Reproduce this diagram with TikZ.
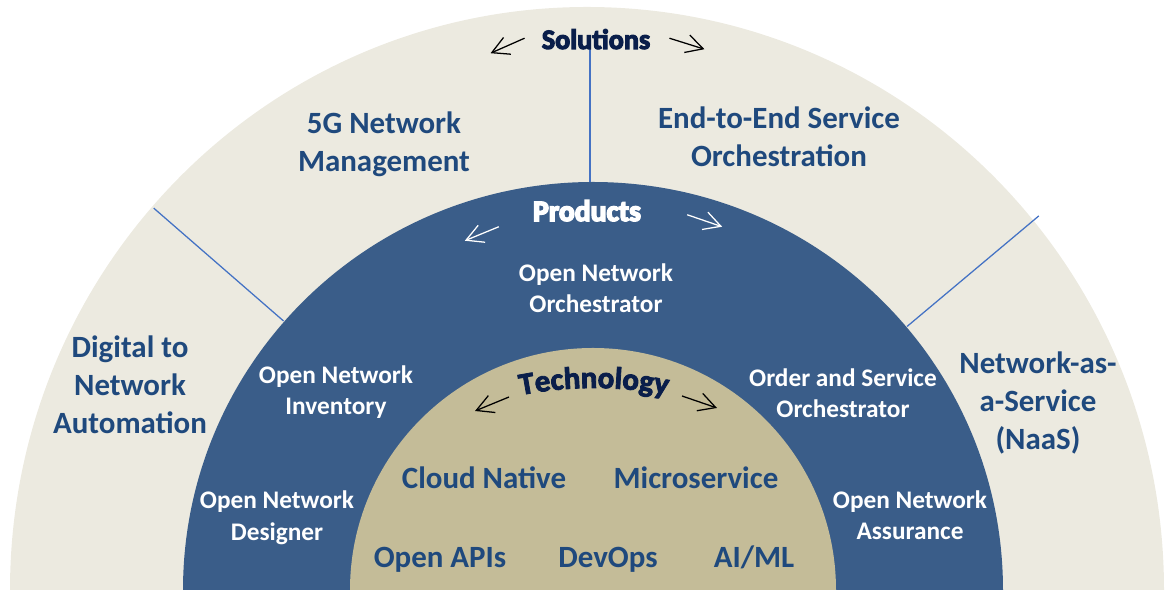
\documentclass[tikz,border=0pt]{standalone}
\usepackage{fontspec}
\setmainfont{Carlito}
\usetikzlibrary{arrows.meta,decorations.text}

\definecolor{ringbeige}{RGB}{236,234,224}
\definecolor{ringblue}{RGB}{58,93,137}
\definecolor{ringtan}{RGB}{196,188,152}
\definecolor{textblue}{RGB}{31,73,125}
\definecolor{lineblue}{RGB}{68,114,196}
\definecolor{labelnavy}{RGB}{10,30,75}

\tikzset{
  outertext/.style={align=center,text=textblue,inner sep=0pt,font=\fontsize{22}{27}\selectfont\bfseries},
  producttext/.style={align=center,text=white,inner sep=0pt,font=\fontsize{18}{22.4}\selectfont\bfseries},
  techtext/.style={text=textblue,inner sep=0pt,anchor=base,font=\fontsize{22}{27}\selectfont\bfseries},
  ringlabel/.style={inner sep=0pt,anchor=base,font=\fontsize{20}{20}\selectfont\bfseries},
  sepline/.style={lineblue,line width=0.9pt},
  handarrow/.style={line width=0.9pt,-{Straight Barb[length=12pt,width=13pt]}},
}

% heavier letters: text filled and stroked
\newcommand{\rimon}[2]{\special{pdf:literal direct 2 Tr #1 w #2 RG}}
\newcommand{\rimoff}{\special{pdf:literal direct 0 Tr}}
\newcommand{\techfont}{\fontsize{22}{22}\selectfont\bfseries\rimon{0.6}{0.04 0.12 0.29}}

\begin{document}
\begin{tikzpicture}[x=0.025cm,y=0.025cm]
\useasboundingbox (0,0) rectangle (1167,590);

% the three rings
\fill[ringbeige] (10,0) arc[start angle=180,end angle=0,x radius=577,y radius=583] -- cycle;
\fill[ringblue] (183,0) arc[start angle=180,end angle=0,x radius=410,y radius=408] -- cycle;
\fill[ringtan] (350,0) arc[start angle=180,end angle=0,x radius=243,y radius=242] -- cycle;

\coordinate (mid) at (593,0);

% separators of the outer ring
\foreach \a in {139,40}
  \draw[sepline] (mid) ++(\a:410) -- ++(\a:172);
\draw[sepline] (590,408) -- (590,553);

% Solutions
\node[ringlabel,text=labelnavy] (sol) at (596,541) {\rimon{0.8}{0.04 0.12 0.29}Solutions\rimoff};
\draw[handarrow] (sol.west) ++(-17,1) -- ++(-34,-15);
\draw[handarrow] (sol.east) ++(19,1) -- ++(35,-11);

\node[outertext] (fiveg) at (384,446) {5G Network\\Management};
\node[outertext] (etoe) at (779,453) {End-to-End Service\\Orchestration};
\node[outertext] (dtn) at (130,205) {Digital to\\Network\\Automation};
\node[outertext] (naas) at (1038,187) {Network-as-\\a-Service\\(NaaS)};

% Products
\node[ringlabel,font=\fontsize{21}{21}\selectfont\bfseries,text=white] (prod) at (587,369) {\rimon{1.1}{1 1 1}Products\rimoff};
\draw[handarrow,white] (prod.west) ++(-34,-16) -- ++(-34,-14);
\draw[handarrow,white] (prod.east) ++(46,-4) -- ++(35,-12);

\node[producttext] (onorch) at (596,302) {Open Network\\Orchestrator};
\node[producttext] (oninv) at (336,198) {Open Network\\Inventory};
\node[producttext] (ondes) at (277,72) {Open Network\\Designer};
\node[producttext] (oso) at (843,197) {Order and Service\\Orchestrator};
\node[producttext] (onass) at (910,75) {Open Network\\Assurance};

% Technology
\coordinate (techc) at (594,-178);
\coordinate (tech) at (594,202);
\path[decorate,decoration={text along path,text={|\techfont|Technology},text align=center,text color=labelnavy}]
  (techc) ++(110:380) arc[start angle=110,end angle=70,radius=380];
\draw[handarrow] (tech) ++(-85,-9) -- ++(-34,-14);
\draw[handarrow] (tech) ++(88,-8) -- ++(35,-12);

\node[techtext] (cloud) at (484,101) {Cloud Native};
\node[techtext] (micro) at (696,101) {Microservice};
\node[techtext] (apis) at (440,22) {Open APIs};
\node[techtext] (devops) at (608,22) {DevOps};
\node[techtext] (aiml) at (754,22) {AI/ML};

\end{tikzpicture}
\end{document}
